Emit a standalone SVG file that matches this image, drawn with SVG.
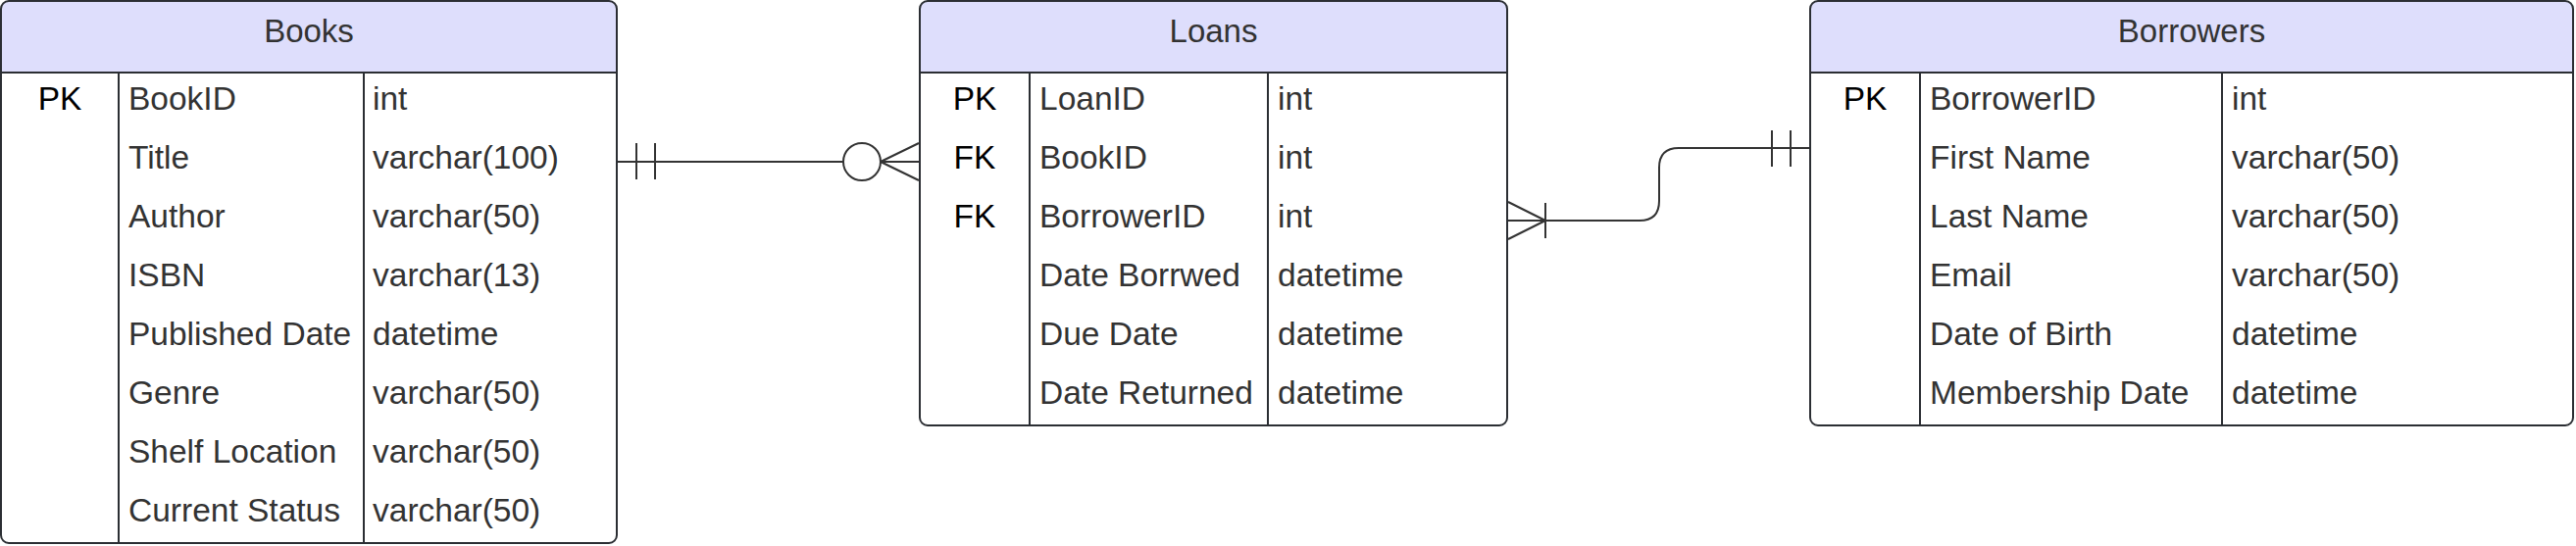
<svg xmlns="http://www.w3.org/2000/svg" width="2627" height="557" viewBox="0 0 2627 557">
<style>
.hdr{fill:#dedefc;stroke:none}
.box{fill:none;stroke:#2b2e33;stroke-width:2}
.sep{stroke:#2b2e33;stroke-width:2}
.t{font-family:"Liberation Sans",Arial,sans-serif;font-size:33.5px;fill:#333333}
.k{font-family:"Liberation Sans",Arial,sans-serif;font-size:33.5px;fill:#000000;text-anchor:middle}
.h{font-family:"Liberation Sans",Arial,sans-serif;font-size:33px;fill:#333333;text-anchor:middle}
.c{fill:none;stroke:#333333;stroke-width:2}
</style>
<rect width="2627" height="557" fill="#ffffff"/>
<g id="books">
<path class="hdr" d="M1,74 V9 Q1,1 9,1 H621 Q629,1 629,9 V74 Z"/>
<rect class="box" x="1" y="1" width="628" height="553" rx="8"/>
<line class="sep" x1="1" y1="74" x2="629" y2="74"/>
<line class="sep" x1="121" y1="74" x2="121" y2="554"/>
<line class="sep" x1="371" y1="74" x2="371" y2="554"/>
<text class="h" x="315" y="43">Books</text>
<text class="k" x="61" y="112">PK</text>
<text class="t" x="131" y="112">BookID</text><text class="t" x="380" y="112">int</text>
<text class="t" x="131" y="172">Title</text><text class="t" x="380" y="172">varchar(100)</text>
<text class="t" x="131" y="232">Author</text><text class="t" x="380" y="232">varchar(50)</text>
<text class="t" x="131" y="292">ISBN</text><text class="t" x="380" y="292">varchar(13)</text>
<text class="t" x="131" y="352">Published Date</text><text class="t" x="380" y="352">datetime</text>
<text class="t" x="131" y="412">Genre</text><text class="t" x="380" y="412">varchar(50)</text>
<text class="t" x="131" y="472">Shelf Location</text><text class="t" x="380" y="472">varchar(50)</text>
<text class="t" x="131" y="532">Current Status</text><text class="t" x="380" y="532">varchar(50)</text>
</g>
<g id="loans">
<path class="hdr" d="M938,74 V9 Q938,1 946,1 H1529 Q1537,1 1537,9 V74 Z"/>
<rect class="box" x="938" y="1" width="599" height="433" rx="8"/>
<line class="sep" x1="938" y1="74" x2="1537" y2="74"/>
<line class="sep" x1="1050" y1="74" x2="1050" y2="434"/>
<line class="sep" x1="1293" y1="74" x2="1293" y2="434"/>
<text class="h" x="1237.5" y="43">Loans</text>
<text class="k" x="994" y="112">PK</text>
<text class="k" x="994" y="172">FK</text>
<text class="k" x="994" y="232">FK</text>
<text class="t" x="1060" y="112">LoanID</text><text class="t" x="1303" y="112">int</text>
<text class="t" x="1060" y="172">BookID</text><text class="t" x="1303" y="172">int</text>
<text class="t" x="1060" y="232">BorrowerID</text><text class="t" x="1303" y="232">int</text>
<text class="t" x="1060" y="292">Date Borrwed</text><text class="t" x="1303" y="292">datetime</text>
<text class="t" x="1060" y="352">Due Date</text><text class="t" x="1303" y="352">datetime</text>
<text class="t" x="1060" y="412">Date Returned</text><text class="t" x="1303" y="412">datetime</text>
</g>
<g id="borrowers">
<path class="hdr" d="M1846,74 V9 Q1846,1 1854,1 H2616 Q2624,1 2624,9 V74 Z"/>
<rect class="box" x="1846" y="1" width="778" height="433" rx="8"/>
<line class="sep" x1="1846" y1="74" x2="2624" y2="74"/>
<line class="sep" x1="1958" y1="74" x2="1958" y2="434"/>
<line class="sep" x1="2266" y1="74" x2="2266" y2="434"/>
<text class="h" x="2235" y="43">Borrowers</text>
<text class="k" x="1902" y="112">PK</text>
<text class="t" x="1968" y="112">BorrowerID</text><text class="t" x="2276" y="112">int</text>
<text class="t" x="1968" y="172">First Name</text><text class="t" x="2276" y="172">varchar(50)</text>
<text class="t" x="1968" y="232">Last Name</text><text class="t" x="2276" y="232">varchar(50)</text>
<text class="t" x="1968" y="292">Email</text><text class="t" x="2276" y="292">varchar(50)</text>
<text class="t" x="1968" y="352">Date of Birth</text><text class="t" x="2276" y="352">datetime</text>
<text class="t" x="1968" y="412">Membership Date</text><text class="t" x="2276" y="412">datetime</text>
</g>
<g id="connectors">
<g id="books-loans">
<path class="c" d="M630,165 H860"/>
<path class="c" d="M649,146 V183 M668,146 V183"/>
<circle class="c" cx="879" cy="165" r="19" fill="#ffffff"/>
<path class="c" d="M898,165 H937 M898,165 L937,146 M898,165 L937,184"/>
</g>
<g id="loans-borrowers">
<path class="c" d="M1538,225 H1672 Q1692,225 1692,205 V171 Q1692,151 1712,151 H1845"/>
<path class="c" d="M1576,225 L1538,206 M1576,225 L1538,244 M1576,207 V243"/>
<path class="c" d="M1807,133 V170 M1826,133 V170"/>
</g>
</g>
</svg>
